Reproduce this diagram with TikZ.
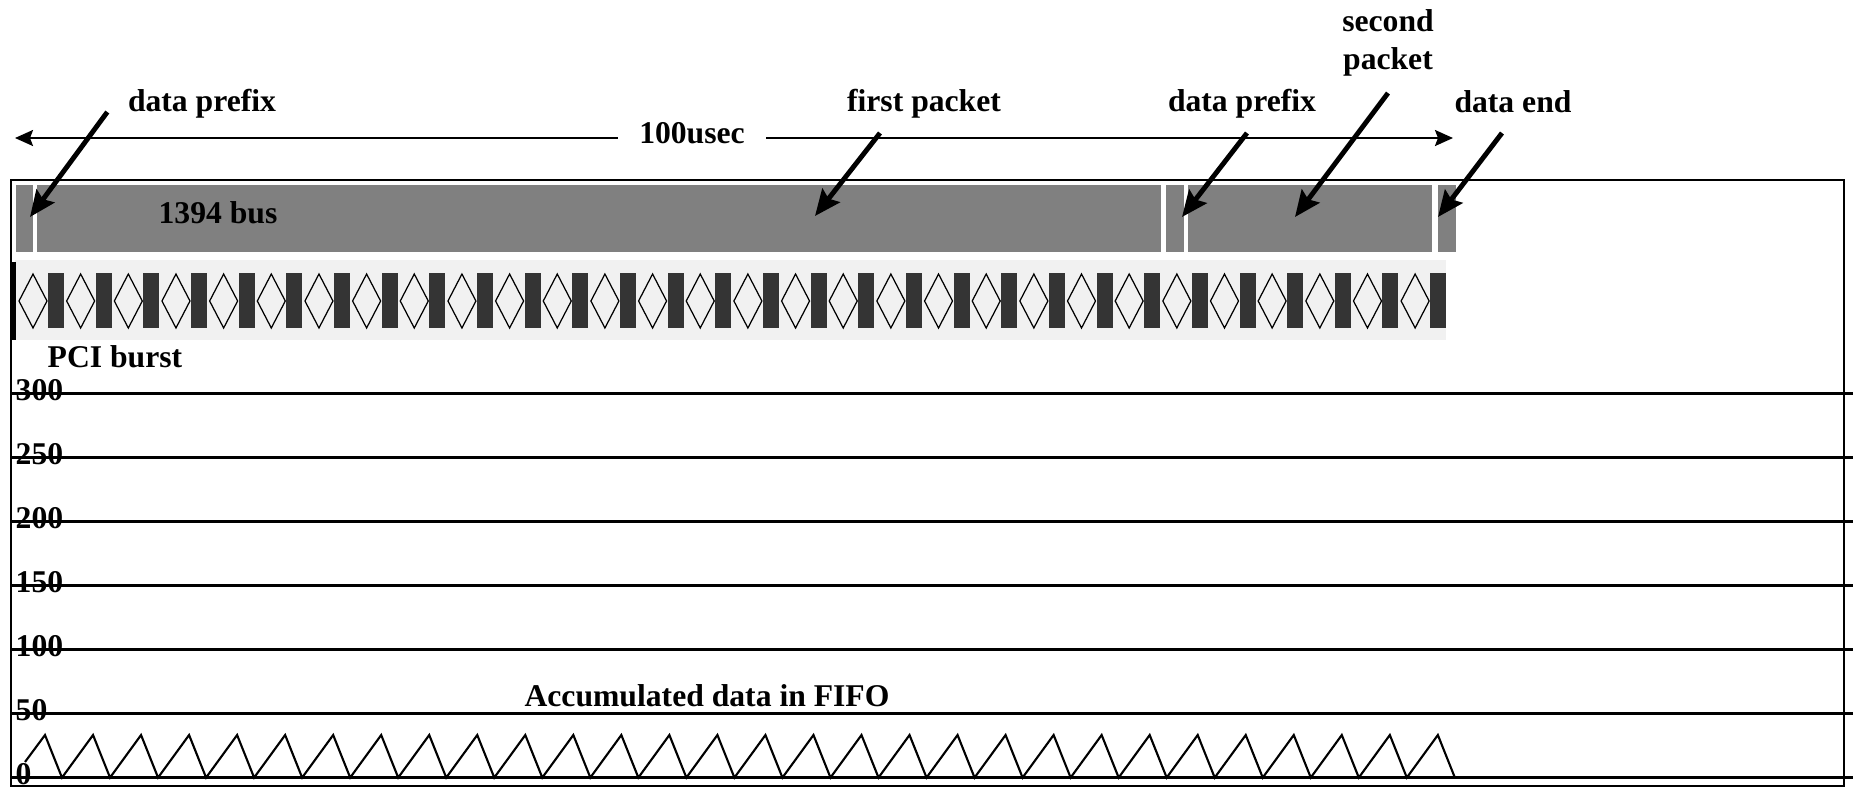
\documentclass[tikz,border=0pt]{standalone}
\usepackage{fontspec}
\setmainfont{Liberation Serif}
\usetikzlibrary{arrows.meta, calc}
\definecolor{bgray}{RGB}{128,128,128}
\definecolor{dgray}{RGB}{52,52,52}
\definecolor{lgray}{RGB}{241,241,241}

\begin{document}
\begin{tikzpicture}[x=0.01cm, y=-0.01cm,
    lbl/.style={font=\bfseries\fontsize{9}{10.8}\selectfont, inner sep=0pt},
    ptr/.style={line width=1.4pt,
                -{Stealth[length=0.26cm, width=0.22cm, inset=0.04cm]}},
    span/.style={line width=0.6pt,
                 -{Stealth[length=0.18cm, width=0.16cm, inset=0.03cm]}},
    gridline/.style={line width=0.7pt}]
  \useasboundingbox (0,0) rectangle (1853,787);

  % frame and scale
  \draw[line width=0.8pt] (11,180) rectangle (1844,786);
  \foreach \v [count=\i from 0] in {0,50,...,300}{
    \draw[gridline] (11,{777.6-64*\i}) -- (1853,{777.6-64*\i});
    \node[lbl, anchor=base west] (y\v) at (15,{784.6-64*\i}) {\v};
  }

  % 1394 bus
  \foreach \a/\b in {16/33, 37/1161, 1166/1184, 1188/1432, 1438/1456}
    \fill[bgray] (\a,185) rectangle (\b,252);
  \node[lbl, anchor=base] (bus) at (218,223) {1394 bus};

  % PCI burst
  \fill[lgray] (15,260) rectangle (1446,340);
  \foreach \k in {0,...,29}{
    \fill[dgray] ({48+47.66*\k},273) rectangle ({64+47.66*\k},328);
    \draw[line width=0.35pt] ({19+47.66*\k},301) -- ({33+47.66*\k},274)
      -- ({47+47.66*\k},301) -- ({33+47.66*\k},328) -- cycle;
  }
  \draw[line width=0.9pt] (14,262) -- (14,340);
  \node[lbl, anchor=base] (pci) at (115,367) {PCI burst};

  % FIFO fill level
  \draw[line width=0.6pt] (25,762)
    \foreach \k in {0,...,29}{ -- ({45+48.03*\k},735) -- ({62+48.03*\k},777.6) };
  \node[lbl, anchor=base] (fifo) at (707,706) {Accumulated data in FIFO};

  % labels above
  \node[lbl, anchor=base] (dp1) at (202,111) {data prefix};
  \node[lbl, anchor=base] (fp) at (924,111) {first packet};
  \node[lbl, anchor=base] (dp2) at (1242,111) {data prefix};
  \node[lbl, anchor=south, align=center] (sp) at (1388,77) {second\\packet};
  \node[lbl, anchor=base] (de) at (1513,112) {data end};
  \node[lbl, anchor=base, inner xsep=0.21cm] (usec) at (692,143) {100usec};

  \coordinate (tl) at (15,138);
  \coordinate (tr) at (1453,138);
  \draw[span] (usec.west |- tl) -- (tl);
  \draw[span] (usec.east |- tr) -- (tr);

  \coordinate (t1) at (30,217);
  \coordinate (t2) at (815,216);
  \coordinate (t3) at (1182,217);
  \coordinate (t4) at (1295,217);
  \coordinate (t5) at (1438,217);
  \draw[ptr] ($(dp1.base west)+(-20,1)$) -- (t1);
  \draw[ptr] ($(fp.base)+(-44,22)$) -- (t2);
  \draw[ptr] ($(dp2.base)+(5,22)$) -- (t3);
  \draw[ptr] ($(sp.south)+(0,16)$) -- (t4);
  \draw[ptr] ($(de.base)+(-11,21)$) -- (t5);
\end{tikzpicture}
\end{document}
